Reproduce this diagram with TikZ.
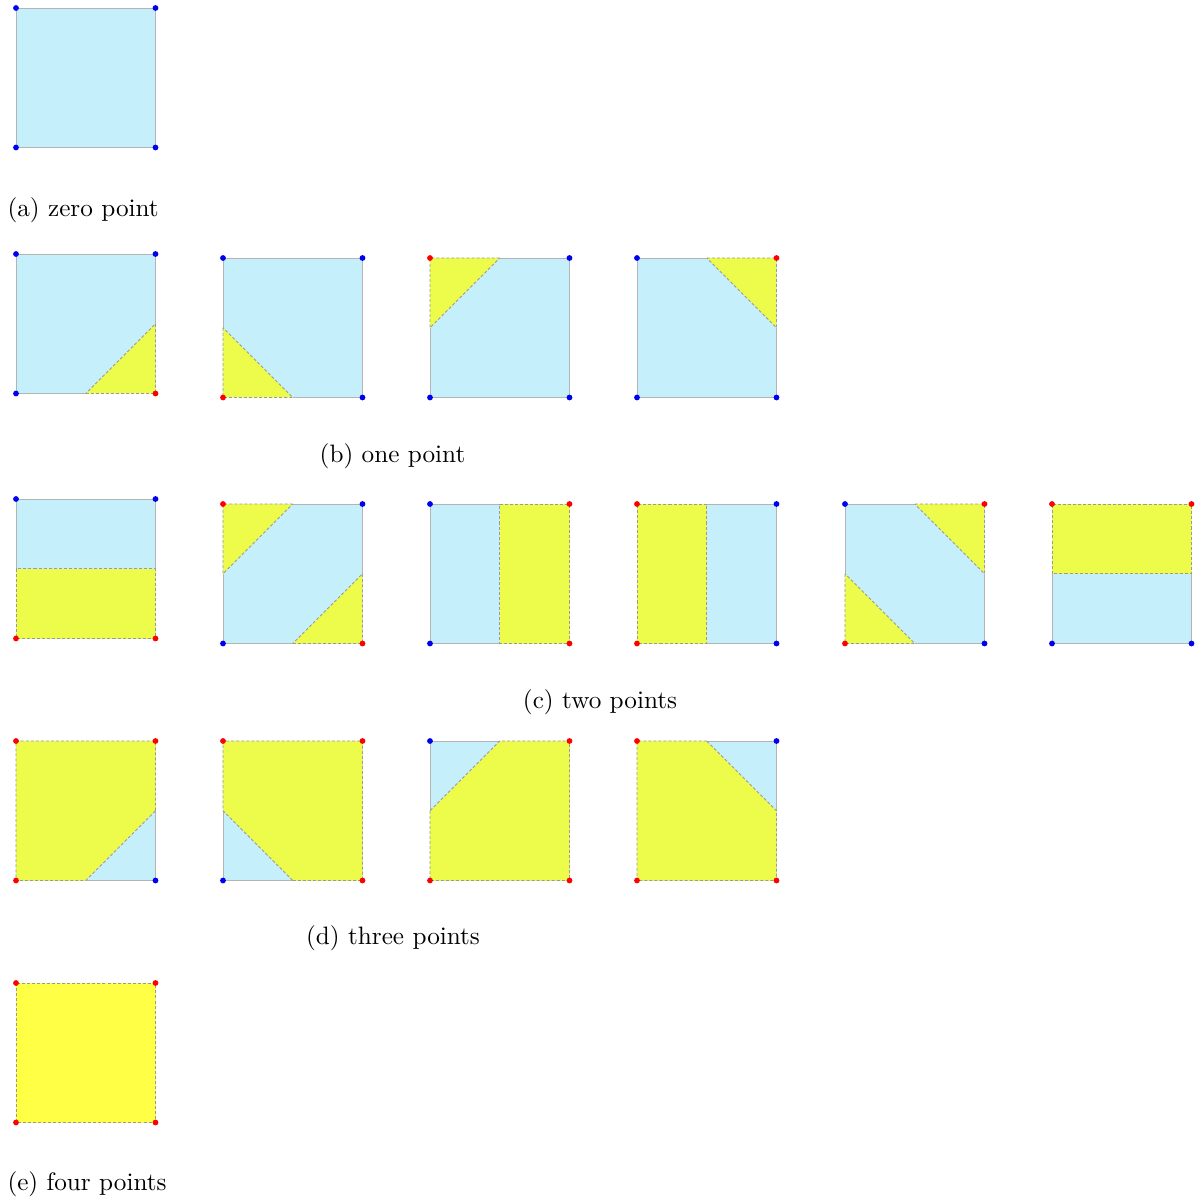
\documentclass[tikz,border=0pt]{standalone}
\usepackage{tikz}
\definecolor{cb}{HTML}{C5EFFB}
\definecolor{cy}{HTML}{EDFC4A}
\definecolor{cf}{HTML}{FFFF46}
\definecolor{edge}{HTML}{B4B4B4}
\definecolor{dedge}{HTML}{9A9A9A}
\definecolor{dred}{HTML}{FF0000}
\definecolor{dblue}{HTML}{0000F0}
\tikzset{
  solidedge/.style={draw=edge,line width=0.35pt},
  dashedge/.style={draw=dedge,line width=0.35pt,dash pattern=on 1.2pt off 0.8pt},
  lbl/.style={inner sep=0pt,font=\fontsize{10}{12}\selectfont},
}
\newcommand\cellat[2]{%
  \coordinate (TL) at (#1,#2);
  \coordinate (TR) at (#1+139.5,#2);
  \coordinate (BR) at (#1+139.5,#2+139.5);
  \coordinate (BL) at (#1,#2+139.5);
  \coordinate (T) at (#1+69.75,#2);
  \coordinate (B) at (#1+69.75,#2+139.5);
  \coordinate (L) at (#1,#2+69.75);
  \coordinate (R) at (#1+139.5,#2+69.75);
}
\newcommand\bluesq{\fill[cb] (TL) rectangle (BR);}
\newcommand\cornerdots[4]{%
  \fill[#1] (TL) circle (1.15pt);
  \fill[#2] (TR) circle (1.15pt);
  \fill[#3] (BR) circle (1.15pt);
  \fill[#4] (BL) circle (1.15pt);
}
\begin{document}
\begin{tikzpicture}[x=0.397pt,y=-0.397pt]
\useasboundingbox (0,0) rectangle (1197,1200);
% ---------- (a)
\cellat{16}{8}
\bluesq
\draw[solidedge] (TL) rectangle (BR);
\cornerdots{dblue}{dblue}{dblue}{dblue}
\node[lbl,anchor=west] (la) at (7,210) {(a) zero point};
% ---------- (b)
\cellat{16}{254}
\bluesq
\fill[cy] (B) -- (BR) -- (R) -- cycle;
\draw[solidedge] (R) -- (TR) -- (TL) -- (BL) -- (B);
\draw[dashedge] (B) -- (BR) -- (R) -- cycle;
\cornerdots{dblue}{dblue}{dred}{dblue}
\cellat{223}{258}
\bluesq
\fill[cy] (L) -- (BL) -- (B) -- cycle;
\draw[solidedge] (B) -- (BR) -- (TR) -- (TL) -- (L);
\draw[dashedge] (L) -- (BL) -- (B) -- cycle;
\cornerdots{dblue}{dblue}{dblue}{dred}
\cellat{430}{258}
\bluesq
\fill[cy] (T) -- (TL) -- (L) -- cycle;
\draw[solidedge] (L) -- (BL) -- (BR) -- (TR) -- (T);
\draw[dashedge] (T) -- (TL) -- (L) -- cycle;
\cornerdots{dred}{dblue}{dblue}{dblue}
\cellat{637}{258}
\bluesq
\fill[cy] (T) -- (TR) -- (R) -- cycle;
\draw[solidedge] (T) -- (TL) -- (BL) -- (BR) -- (R);
\draw[dashedge] (T) -- (TR) -- (R) -- cycle;
\cornerdots{dblue}{dred}{dblue}{dblue}
\node[lbl] (lb) at (392.5,456) {(b) one point};
% ---------- (c)
\cellat{16}{499}
\bluesq
\fill[cy] (L) -- (BL) -- (BR) -- (R) -- cycle;
\draw[solidedge] (L) -- (TL) -- (TR) -- (R);
\draw[dashedge] (L) -- (BL) -- (BR) -- (R) -- cycle;
\cornerdots{dblue}{dblue}{dred}{dred}
\cellat{223}{504}
\bluesq
\fill[cy] (T) -- (TL) -- (L) -- cycle;
\fill[cy] (B) -- (BR) -- (R) -- cycle;
\draw[solidedge] (T) -- (TR) -- (R);
\draw[solidedge] (L) -- (BL) -- (B);
\draw[dashedge] (T) -- (TL) -- (L) -- cycle;
\draw[dashedge] (B) -- (BR) -- (R) -- cycle;
\cornerdots{dred}{dblue}{dred}{dblue}
\cellat{430}{504}
\bluesq
\fill[cy] (T) -- (TR) -- (BR) -- (B) -- cycle;
\draw[solidedge] (T) -- (TL) -- (BL) -- (B);
\draw[dashedge] (T) -- (TR) -- (BR) -- (B) -- cycle;
\cornerdots{dblue}{dred}{dred}{dblue}
\cellat{637}{504}
\bluesq
\fill[cy] (T) -- (TL) -- (BL) -- (B) -- cycle;
\draw[solidedge] (T) -- (TR) -- (BR) -- (B);
\draw[dashedge] (T) -- (TL) -- (BL) -- (B) -- cycle;
\cornerdots{dred}{dblue}{dblue}{dred}
\cellat{845}{504}
\bluesq
\fill[cy] (T) -- (TR) -- (R) -- cycle;
\fill[cy] (L) -- (BL) -- (B) -- cycle;
\draw[solidedge] (T) -- (TL) -- (L);
\draw[solidedge] (B) -- (BR) -- (R);
\draw[dashedge] (T) -- (TR) -- (R) -- cycle;
\draw[dashedge] (L) -- (BL) -- (B) -- cycle;
\cornerdots{dblue}{dred}{dblue}{dred}
\cellat{1052}{504}
\bluesq
\fill[cy] (L) -- (TL) -- (TR) -- (R) -- cycle;
\draw[solidedge] (L) -- (BL) -- (BR) -- (R);
\draw[dashedge] (L) -- (TL) -- (TR) -- (R) -- cycle;
\cornerdots{dred}{dred}{dblue}{dblue}
\node[lbl] (lc) at (600,702) {(c) two points};
% ---------- (d)
\cellat{16}{741}
\fill[cy] (TL) rectangle (BR);
\fill[cb] (B) -- (BR) -- (R) -- cycle;
\draw[solidedge] (B) -- (BR) -- (R);
\draw[dashedge] (R) -- (TR) -- (TL) -- (BL) -- (B) -- cycle;
\cornerdots{dred}{dred}{dblue}{dred}
\cellat{223}{741}
\fill[cy] (TL) rectangle (BR);
\fill[cb] (L) -- (BL) -- (B) -- cycle;
\draw[solidedge] (L) -- (BL) -- (B);
\draw[dashedge] (B) -- (BR) -- (TR) -- (TL) -- (L) -- cycle;
\cornerdots{dred}{dred}{dred}{dblue}
\cellat{430}{741}
\fill[cy] (TL) rectangle (BR);
\fill[cb] (T) -- (TL) -- (L) -- cycle;
\draw[solidedge] (T) -- (TL) -- (L);
\draw[dashedge] (L) -- (BL) -- (BR) -- (TR) -- (T) -- cycle;
\cornerdots{dblue}{dred}{dred}{dred}
\cellat{637}{741}
\fill[cy] (TL) rectangle (BR);
\fill[cb] (T) -- (TR) -- (R) -- cycle;
\draw[solidedge] (T) -- (TR) -- (R);
\draw[dashedge] (T) -- (TL) -- (BL) -- (BR) -- (R) -- cycle;
\cornerdots{dred}{dblue}{dred}{dred}
\node[lbl] (ld) at (393,938) {(d) three points};
% ---------- (e)
\cellat{16}{983}
\fill[cf] (TL) rectangle (BR);
\draw[dashedge] (TL) rectangle (BR);
\cornerdots{dred}{dred}{dred}{dred}
\node[lbl,anchor=west] (le) at (7,1184) {(e) four points};
\end{tikzpicture}
\end{document}
